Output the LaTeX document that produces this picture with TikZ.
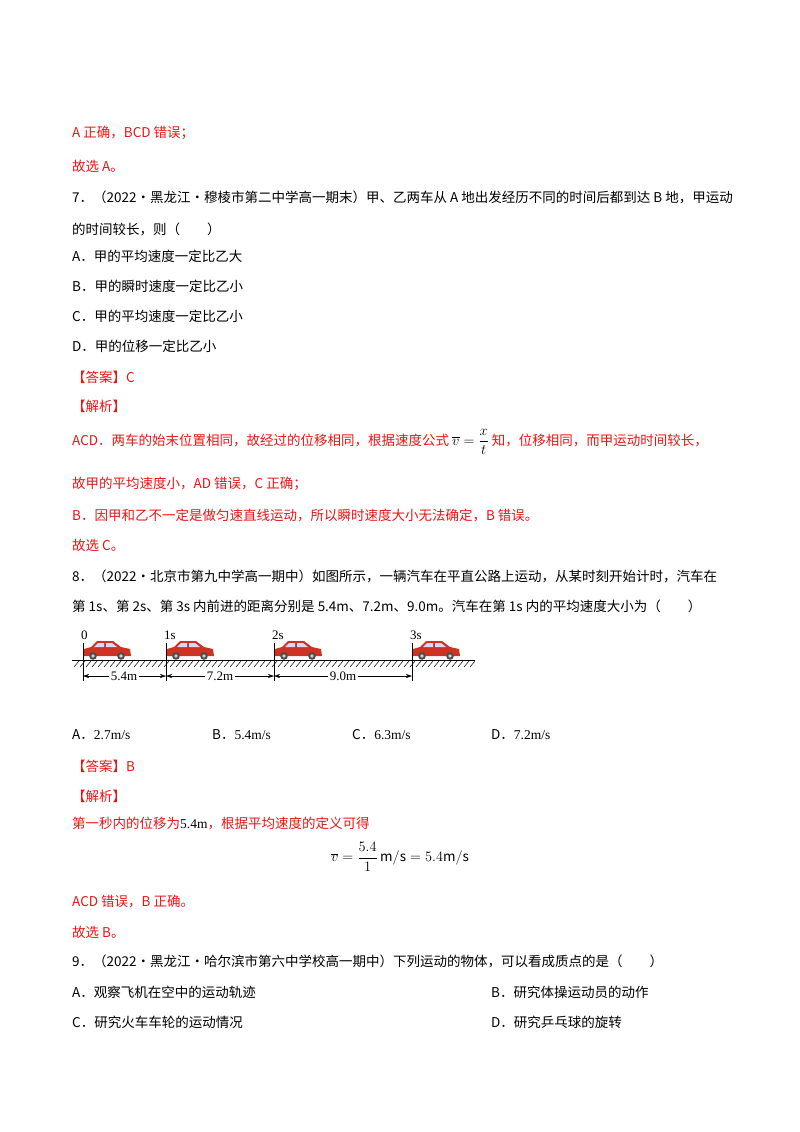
\documentclass[tikz,border=0pt]{standalone}
\usepackage{fontspec}
\setmainfont{Noto Sans CJK SC}
\newfontfamily\lat{Liberation Serif}
\usetikzlibrary{arrows.meta}
\definecolor{ans}{RGB}{235,20,20}
\definecolor{carred}{RGB}{205,50,35}
\begin{document}
\begin{tikzpicture}[x=1pt,y=-1pt,
  txt/.style={anchor=west,inner sep=0pt,font=\fontsize{13.5}{14}\selectfont},
  rt/.style={txt,text=ans},
  tick/.style={line width=0.8pt},
  dim/.style={-{Stealth[length=6pt,width=4pt]},line width=0.6pt},
  lab/.style={inner sep=2pt,font=\lat\fontsize{13}{14}\selectfont}]
\useasboundingbox (0,0) rectangle (800,1132);
\node[rt] (l1) at (72,133) {A 正确，BCD 错误；};
\node[rt] (l2) at (72,166) {故选 A。};
\node[txt] (l3) at (72,197) {7．（2022·黑龙江·穆棱市第二中学高一期末）甲、乙两车从 \textit{A} 地出发经历不同的时间后都到达 \textit{B} 地，甲运动};
\node[txt] (l4) at (72,229) {的时间较长，则（　　）};
\node[txt] (l5) at (72,256) {A．甲的平均速度一定比乙大};
\node[txt] (l6) at (72,286) {B．甲的瞬时速度一定比乙小};
\node[txt] (l7) at (72,316) {C．甲的平均速度一定比乙小};
\node[txt] (l8) at (72,346) {D．甲的位移一定比乙小};
\node[rt] (l9) at (72,377) {【答案】C};
\node[rt] (l10) at (72,406) {【解析】};
\node[rt] (l11) at (72,442) {ACD．两车的始末位置相同，故经过的位移相同，根据速度公式 \textcolor{black}{$\displaystyle\overline{v}=\frac{x}{t}$} 知，位移相同，而甲运动时间较长，};
\node[rt] (l12) at (72,484) {故甲的平均速度小，AD 错误，C 正确；};
\node[rt] (l13) at (72,515) {B．因甲和乙不一定是做匀速直线运动，所以瞬时速度大小无法确定，B 错误。};
\node[rt] (l14) at (72,545) {故选 C。};
\node[txt] (l15) at (72,576) {8．（2022·北京市第九中学高一期中）如图所示，一辆汽车在平直公路上运动，从某时刻开始计时，汽车在};
\node[txt] (l16) at (72,606) {第 1s、第 2s、第 3s 内前进的距离分别是 5.4m、7.2m、9.0m。汽车在第 1s 内的平均速度大小为（　　）};
% figure
\draw[line width=0.8pt] (72,660) -- (475,660);
\foreach \x in {74,80,...,474} \draw[line width=0.5pt] (\x,667) -- (\x+5,661);
\foreach \x/\t/\n in {83/0/a,166/1s/b,274/2s/c,412/3s/d}{
  \coordinate (\n) at (\x,676);
  \draw[tick] (\x,643) -- (\x,681);
  \node[lab,anchor=south west,inner sep=1pt] at (\x-3,641) {\t};
  \begin{scope}[shift={(\x,0)}]
    \fill[carred] (1,656) -- (1,649) -- (8,647) -- (14,641) -- (30,641) -- (38,647) -- (47,649) -- (48,656) -- cycle;
    \fill[white!85!blue] (15,643) -- (21,643) -- (21,647) -- (11,647) -- cycle;
    \fill[white!85!blue] (23,643) -- (29,643) -- (34,647) -- (23,647) -- cycle;
    \fill[black!70] (10,656) circle (3.8); \fill[gray!40] (10,656) circle (1.8);
    \fill[black!70] (38,656) circle (3.8); \fill[gray!40] (38,656) circle (1.8);
  \end{scope}}
\node[lab] (d1) at (124,676) {5.4m};
\node[lab] (d2) at (220,676) {7.2m};
\node[lab] (d3) at (343,676) {9.0m};
\draw[dim] (d1.west) -- (a); \draw[dim] (d1.east) -- (b);
\draw[dim] (d2.west) -- (b); \draw[dim] (d2.east) -- (c);
\draw[dim] (d3.west) -- (c); \draw[dim] (d3.east) -- (d);
\node[txt] (o1) at (72,735) {A．\lat 2.7m/s};
\node[txt] (o2) at (212,735) {B．\lat 5.4m/s};
\node[txt] (o3) at (352,735) {C．\lat 6.3m/s};
\node[txt] (o4) at (491,735) {D．\lat 7.2m/s};
\node[rt] (l17) at (72,766) {【答案】B};
\node[rt] (l18) at (72,796) {【解析】};
\node[rt] (l19) at (72,823) {第一秒内的位移为\textcolor{black}{\lat 5.4m}，根据平均速度的定义可得};
\node[inner sep=0pt,font=\fontsize{13.5}{14}\selectfont] (eq) at (400,857) {$\displaystyle\overline{v}=\frac{5.4}{1}\,\mathrm{m/s}=5.4\mathrm{m/s}$};
\node[rt] (l20) at (72,902) {ACD 错误，B 正确。};
\node[rt] (l21) at (72,932) {故选 B。};
\node[txt] (l22) at (72,961) {9．（2022·黑龙江·哈尔滨市第六中学校高一期中）下列运动的物体，可以看成质点的是（　　）};
\node[txt] (l23) at (72,992) {A．观察飞机在空中的运动轨迹};
\node[txt] (l24) at (491,992) {B．研究体操运动员的动作};
\node[txt] (l25) at (72,1022) {C．研究火车车轮的运动情况};
\node[txt] (l26) at (491,1022) {D．研究乒乓球的旋转};
\end{tikzpicture}
\end{document}
